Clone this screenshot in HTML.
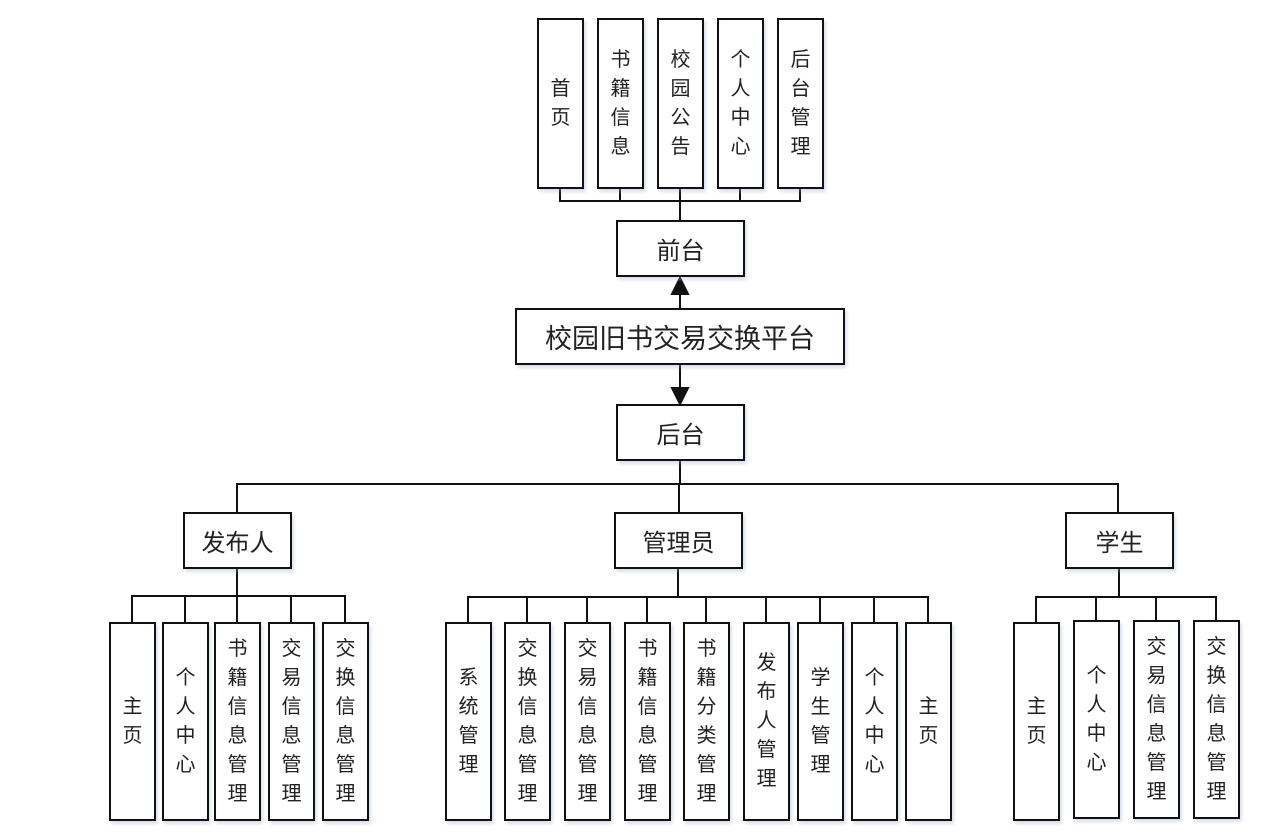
<!DOCTYPE html>
<html><head><meta charset="utf-8"><style>
html,body{margin:0;padding:0;background:#fff;}
body{width:1278px;height:836px;position:relative;overflow:hidden;font-family:"Liberation Sans","Noto Sans CJK SC",sans-serif;color:#222;}
.b{position:absolute;box-sizing:border-box;border:2px solid #111;background:#fff;display:flex;align-items:center;justify-content:center;text-align:center;box-shadow:2px 3px 3px rgba(150,170,200,0.35);}
.v{font-size:20px;line-height:29px;width:24px;word-break:break-all;}
.h{font-size:24px;}
svg{position:absolute;left:0;top:0;}
</style></head><body>
<svg width="1278" height="836" stroke="#111" stroke-width="2" fill="none">
<!-- top -->
<path d="M560 188V201H800V188M620 188V201M740 188V201M680 188V220"/>
<path d="M680 308V292"/><path d="M672 294L680 278L688 294Z" fill="#111"/>
<path d="M680 365V388"/><path d="M672 388L680 404L688 388Z" fill="#111"/>
<path d="M680 461V484M237 512V484H1118V512M679 484V512"/>
<!-- publisher -->
<path d="M237 568V596M132 622V596H345V622M185 596V622M237 596V622M291 596V622"/>
<!-- admin -->
<path d="M678 568V597M468 622V597H928V622M527 597V622M587 597V622M647 597V622M706 597V622M766 597V622M820 597V622M874 597V622"/>
<!-- student -->
<path d="M1119 568V597M1036 622V597H1216V622M1096 597V622M1156 597V622"/>
</svg>

<div class="b" style="left:537px;top:18px;width:47px;height:171px"><div class="v">首页</div></div>
<div class="b" style="left:597px;top:18px;width:47px;height:171px"><div class="v">书籍信息</div></div>
<div class="b" style="left:657px;top:18px;width:47px;height:171px"><div class="v">校园公告</div></div>
<div class="b" style="left:717px;top:18px;width:47px;height:171px"><div class="v">个人中心</div></div>
<div class="b" style="left:777px;top:18px;width:47px;height:171px"><div class="v">后台管理</div></div>

<div class="b h" style="left:616px;top:220px;width:129px;height:57px">前台</div>
<div class="b" style="left:515px;top:308px;width:330px;height:57px;font-size:27px">校园旧书交易交换平台</div>
<div class="b h" style="left:616px;top:404px;width:129px;height:57px">后台</div>

<div class="b h" style="left:183px;top:512px;width:109px;height:57px">发布人</div>
<div class="b h" style="left:614px;top:512px;width:129px;height:57px">管理员</div>
<div class="b h" style="left:1065px;top:512px;width:109px;height:57px">学生</div>

<div class="b" style="left:109px;top:622px;width:47px;height:199px"><div class="v">主页</div></div>
<div class="b" style="left:162px;top:622px;width:47px;height:199px"><div class="v">个人中心</div></div>
<div class="b" style="left:214px;top:622px;width:47px;height:199px"><div class="v">书籍信息管理</div></div>
<div class="b" style="left:268px;top:622px;width:47px;height:199px"><div class="v">交易信息管理</div></div>
<div class="b" style="left:322px;top:622px;width:47px;height:199px"><div class="v">交换信息管理</div></div>

<div class="b" style="left:445px;top:622px;width:47px;height:199px"><div class="v">系统管理</div></div>
<div class="b" style="left:504px;top:622px;width:47px;height:199px"><div class="v">交换信息管理</div></div>
<div class="b" style="left:564px;top:622px;width:47px;height:199px"><div class="v">交易信息管理</div></div>
<div class="b" style="left:624px;top:622px;width:47px;height:199px"><div class="v">书籍信息管理</div></div>
<div class="b" style="left:683px;top:622px;width:47px;height:199px"><div class="v">书籍分类管理</div></div>
<div class="b" style="left:743px;top:622px;width:47px;height:199px"><div class="v">发布人管理</div></div>
<div class="b" style="left:797px;top:622px;width:47px;height:199px"><div class="v">学生管理</div></div>
<div class="b" style="left:851px;top:622px;width:47px;height:199px"><div class="v">个人中心</div></div>
<div class="b" style="left:905px;top:622px;width:47px;height:199px"><div class="v">主页</div></div>

<div class="b" style="left:1013px;top:622px;width:47px;height:199px"><div class="v">主页</div></div>
<div class="b" style="left:1073px;top:620px;width:47px;height:199px"><div class="v">个人中心</div></div>
<div class="b" style="left:1133px;top:620px;width:47px;height:199px"><div class="v">交易信息管理</div></div>
<div class="b" style="left:1193px;top:620px;width:47px;height:199px"><div class="v">交换信息管理</div></div>
</body></html>
